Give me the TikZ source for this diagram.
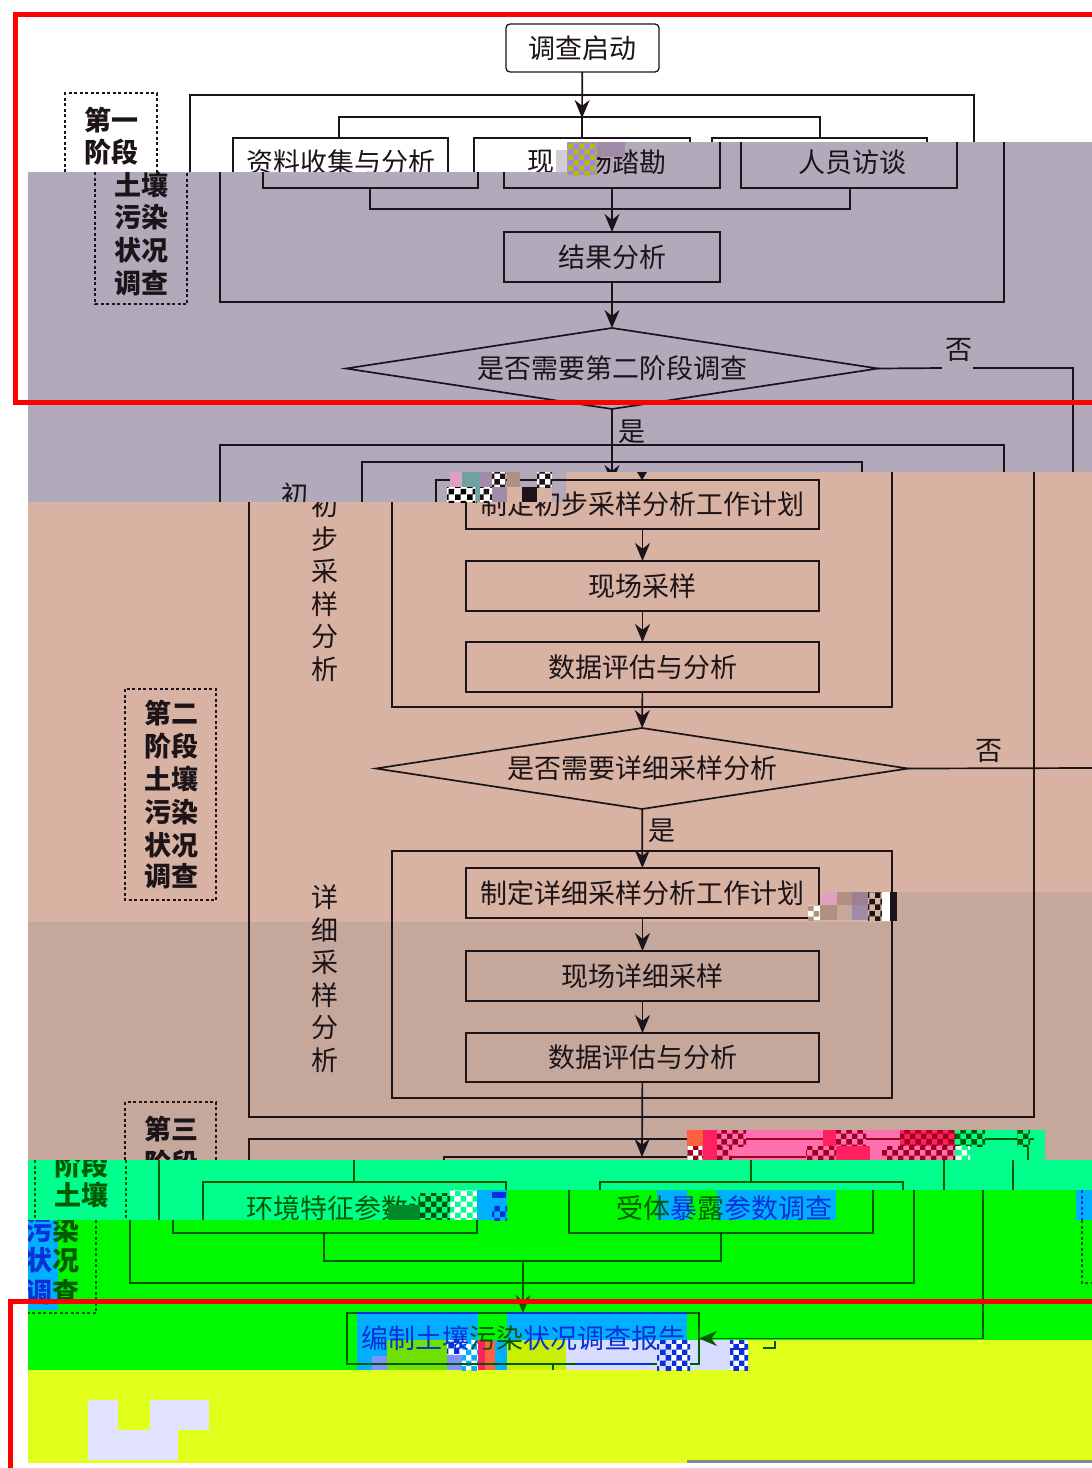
\documentclass[tikz,border=0pt]{standalone}
\usepackage{fontspec}
\setmainfont{Noto Sans CJK SC}
\usetikzlibrary{shapes.geometric,arrows.meta,patterns}
\definecolor{ln}{HTML}{1C1418}
\definecolor{lav}{HTML}{B2AABA}
\definecolor{tanb}{HTML}{D8B2A2}
\definecolor{tand}{HTML}{C5A89B}
\definecolor{pinkb}{HTML}{FF70B0}
\definecolor{hotr}{HTML}{FF2060}
\definecolor{orng}{HTML}{FF6040}
\definecolor{dred}{HTML}{A00020}
\definecolor{spr}{HTML}{00FF8C}
\definecolor{grn}{HTML}{00F800}
\definecolor{dgr}{HTML}{005A00}
\definecolor{sky}{HTML}{00B0FF}
\definecolor{blu}{HTML}{0830D8}
\definecolor{yel}{HTML}{E0FF1A}
\definecolor{yg}{HTML}{C8F000}
\definecolor{lg}{HTML}{70E000}
\definecolor{lil}{HTML}{D8DCFF}
\definecolor{lil2}{HTML}{E2E4FF}
\definecolor{peri}{HTML}{8090FF}
\definecolor{pur}{HTML}{A080FF}
\definecolor{olv}{HTML}{B0C000}
\definecolor{mau}{HTML}{A08CA8}
\definecolor{mau2}{HTML}{9F8090}
\definecolor{brn}{HTML}{B09080}
\definecolor{teal2}{HTML}{70A0A0}
\definecolor{pk2}{HTML}{E0A0C0}
\definecolor{gry}{HTML}{888888}
\definecolor{rd}{HTML}{FF0000}
\newcommand{\nz}[6]{\fill[#5] (#1,#2) rectangle (#3,#4);\fill[pattern=checkerboard,pattern color=#6] (#1,#2) rectangle (#3,#4);}
\newcommand{\blk}[5]{\fill[#5] (#1,#2) rectangle (#3,#4);}
\tikzset{
  x=1pt,y=-1pt,
  every node/.style={font=\fontsize{27}{30}\selectfont,text=ln,inner sep=0pt,outer sep=0pt},
  stage/.style={font=\fontsize{27}{30}\selectfont\bfseries},
  wire/.style={draw=ln,line width=1.7pt,line join=miter},
  arr/.style={wire,-{Stealth[length=18pt,width=15pt]}},
  dash box/.style={draw=ln,line width=1.4pt,dash pattern=on 3pt off 2.5pt},
  boxn/.style={draw=ln,line width=1.7pt,minimum width=353pt,minimum height=50pt},
  dec/.style={diamond,draw=ln,line width=1.7pt,aspect=6.4,minimum width=532pt,minimum height=81pt},
  gwire/.style={draw=dgr,line width=1.7pt},
  garr/.style={gwire,-{Stealth[length=18pt,width=15pt]}},
  gdash/.style={draw=dgr,line width=1.4pt,dash pattern=on 3pt off 2.5pt},
  gtxt/.style={text=dgr},
}
\begin{document}
\begin{tikzpicture}
\useasboundingbox (0,0) rectangle (1092,1468);
\fill[white] (0,0) rectangle (1092,1468);

% ---------- first (white) band
\node[draw=ln,line width=1.3pt,rounded corners=4pt,minimum width=153pt,minimum height=48pt] (start) at (582.5,48) {调查启动};
\coordinate (t1) at (582,118);
\draw[arr] (start) -- (t1);
\draw[wire] (190,172) -- (190,95) -- (974,95) -- (974,143);
\draw[dash box] (65,172) -- (65,93) -- (157,93) -- (157,172);
\node[stage] (s1a) at (111,120) {第一};
\node[stage] (s1b) at (111,152) {阶段};
\draw[wire] (582,117) -- (582,138);
\draw[wire] (339,138) -- (339,117) -- (820,117) -- (820,138);
\draw[wire] (233,172) -- (233,138) -- (448,138) -- (448,172);
\draw[wire] (474,172) -- (474,138) -- (690,138) -- (690,143);
\draw[wire] (712,143) -- (712,138) -- (927,138) -- (927,143);
\node (ziliao) at (340.5,162) {资料收集与分析};
\node (xian) at (541,162) {现};

% ---------- lavender band
\fill[lav] (597,142) rectangle (1092,172);
\fill[lav] (28,172) rectangle (1092,472);
\fill[lav] (28,472) rectangle (566,502);
\node (chang) at (625.5,162) {场踏勘};
\node (renyuan) at (852,162) {人员访谈};
\draw[wire] (220,172) -- (220,302) -- (1004,302) -- (1004,142);
\draw[dash box] (95,172) -- (95,304) -- (187,304) -- (187,172);
\node[stage] (s1c) at (141,185) {土壤};
\node[stage] (s1d) at (141,217) {污染};
\node[stage] (s1e) at (141,250) {状况};
\node[stage] (s1f) at (141,283) {调查};
\draw[wire] (263,172) -- (263,188) -- (478,188) -- (478,172);
\draw[wire] (504,172) -- (504,188) -- (720,188) -- (720,142);
\draw[wire] (741,142) -- (741,188) -- (957,188) -- (957,142);
\draw[wire] (370,188) -- (370,209) -- (850,209) -- (850,188);
\node[boxn,minimum width=216pt] (jieguo) at (612,257) {结果分析};
\coordinate (m1) at (612,188);
\draw[arr] (m1) -- (jieguo);
\node[dec] (d1) at (612,368.5) {是否需要第二阶段调查};
\draw[arr] (jieguo) -- (d1);
\node (no1) at (959,350) {否};
\coordinate (n1a) at (942,368);
\coordinate (n1b) at (973,368);
\coordinate (n1c) at (1073,368);
\coordinate (n1d) at (1073,472);
\draw[wire] (d1.east) -- (n1a);
\draw[wire] (n1b) -- (n1c) -- (n1d);
\node (yes1) at (632,432) {是};
\draw[wire] (220,502) -- (220,445) -- (1004,445) -- (1004,472);
\draw[wire] (362,502) -- (362,462) -- (862,462) -- (862,472);
\draw[wire] (436,502) -- (436,480) -- (566,480);
\node (chu0) at (295,495) {初};
\coordinate (a1) at (612,483);
\draw[arr] (d1) -- (a1);

% ---------- tan band
\fill[tanb] (566,472) rectangle (1092,502);
\fill[tanb] (28,502) rectangle (1092,922);
\fill[tand] (895,892) rectangle (1092,922);
\fill[tand] (28,922) rectangle (1092,1160);
\draw[wire] (249,502) -- (249,1117) -- (1034,1117) -- (1034,472);
\draw[wire] (392,502) -- (392,707) -- (892,707) -- (892,472);
\fill[ln] (637,472) -- (647,472) -- (642,480) -- cycle;
\draw[wire] (466,502) -- (466,529) -- (819,529) -- (819,480) -- (566,480);
\node[minimum width=353pt,minimum height=49pt] (b1) at (642.5,504.5) {制定初步采样分析工作计划};
\begin{scope}
\clip (249,502) rectangle (392,530);
\node (i1) at (325,505) {初};
\end{scope}
\node (i2) at (325,539) {步};
\node (i3) at (325,571) {采};
\node (i4) at (325,604) {样};
\node (i5) at (325,637) {分};
\node (i6) at (325,669) {析};
\node[boxn] (b2) at (642.5,586) {现场采样};
\node[boxn] (b3) at (642.5,667) {数据评估与分析};
\draw[arr] (b1) -- (b2);
\draw[arr] (b2) -- (b3);
\node[dec] (d2) at (642,768.5) {是否需要详细采样分析};
\draw[arr] (b3) -- (d2);
\coordinate (n2) at (1092,768);
\draw[wire] (d2.east) -- (n2);
\node (no2) at (989,751) {否};
\node (yes2) at (662,831) {是};
\draw[wire] (392,851) rectangle (892,1098);
\node[boxn] (b4) at (642.5,893) {制定详细采样分析工作计划};
\node[boxn] (b5) at (642.5,976) {现场详细采样};
\node[boxn,minimum height=49pt] (b6) at (642.5,1057.5) {数据评估与分析};
\draw[arr] (d2) -- (b4);
\draw[arr] (b4) -- (b5);
\draw[arr] (b5) -- (b6);
\node (j1) at (325,897) {详};
\node (j2) at (325,930) {细};
\node (j3) at (325,962) {采};
\node (j4) at (325,995) {样};
\node (j5) at (325,1028) {分};
\node (j6) at (325,1060) {析};
\draw[dash box] (125,689) rectangle (216,900);
\node[stage] (s2a) at (171,713) {第二};
\node[stage] (s2b) at (171,746) {阶段};
\node[stage] (s2c) at (171,779) {土壤};
\node[stage] (s2d) at (171,812) {污染};
\node[stage] (s2e) at (171,845) {状况};
\node[stage] (s2f) at (171,876) {调查};
\draw[dash box] (125,1160) -- (125,1102) -- (216,1102) -- (216,1160);
\node[stage] (s3a) at (171,1129) {第三};
\node[stage] (s3b) at (171,1163) {阶段};
\draw[wire] (249,1160) -- (249,1139) -- (687,1139);
\draw[wire] (444,1160) -- (444,1157) -- (687,1157);
\coordinate (a2) at (642,1157);
\draw[arr] (b6) -- (a2);

% noise on the tan band
\nz{447}{487}{475}{502}{white}{black}
\nz{476}{487}{492}{502}{white}{ln}
\blk{450}{472}{462}{487}{pk2}
\blk{462}{472}{480}{487}{teal2}
\blk{476}{487}{480}{502}{teal2}
\blk{480}{472}{492}{487}{mau}
\nz{492}{472}{506}{487}{white}{ln}
\blk{492}{487}{507}{502}{mau}
\blk{507}{472}{520}{487}{brn}
\blk{507}{487}{522}{502}{tanb}
\fill[ln] (522,487) rectangle (537,502);
\blk{537}{487}{552}{502}{tanb}
\nz{537}{472}{552}{487}{white}{ln}
% row at y 892-922
\blk{822}{892}{837}{905}{pk2}
\blk{837}{892}{852}{905}{brn}
\blk{852}{892}{868}{905}{mau2}
\nz{868}{892}{882}{920}{tanb}{ln}
\nz{808}{905}{820}{920}{white}{brn}
\blk{820}{905}{837}{920}{brn}
\blk{837}{905}{852}{920}{tand}
\blk{852}{905}{868}{920}{mau}
\fill[white] (882,892) rectangle (890,921);
\fill[ln] (890,892) rectangle (897,921);
% noise in the second row
\blk{567}{142}{597}{175}{pur}
\fill[pattern=checkerboard,pattern color=olv] (567,142) rectangle (597,175);
\blk{597}{142}{625}{157}{mau}
\fill[lav!60!white] (556,150) rectangle (567,172);

% ---------- coloured strip y 1130-1160
\fill[pinkb] (687,1130) rectangle (955,1160);
\fill[spr] (955,1130) rectangle (1045,1160);
\draw[draw=dred,line width=1.7pt] (687,1139) -- (955,1139);
\draw[draw=dred,line width=1.7pt] (687,1157) -- (841,1157);
\draw[gwire] (955,1139) -- (1034,1139);
\draw[gwire] (1028,1147) -- (1028,1160);
\blk{687}{1130}{703}{1146}{orng}
\blk{703}{1130}{717}{1160}{hotr}
\nz{717}{1130}{746}{1146}{pinkb}{dred}
\blk{823}{1130}{836}{1146}{hotr}
\nz{836}{1130}{866}{1146}{pinkb}{dred}
\nz{900}{1130}{955}{1146}{hotr}{dred}
\nz{955}{1130}{985}{1146}{spr}{dgr}
\nz{1017}{1130}{1030}{1146}{spr}{dgr}
\nz{687}{1146}{702}{1160}{white}{dred}
\nz{717}{1146}{732}{1160}{pinkb}{dred}
\nz{806}{1146}{836}{1160}{pinkb}{dred}
\blk{836}{1146}{870}{1160}{hotr}
\nz{882}{1146}{955}{1160}{pinkb}{dred}
\nz{955}{1146}{970}{1160}{spr}{white}

% ---------- spring-green band
\fill[spr] (28,1160) rectangle (1092,1220);
\begin{scope}
\clip (28,1160) rectangle (1092,1220);
\draw[gdash] (35,1160) -- (35,1220);
\draw[gdash] (126,1160) -- (126,1220);
\node[gtxt,stage] (s3c) at (81,1165) {阶段};
\node[gtxt,stage] (s3d) at (81,1195) {土壤};
\draw[gwire] (159,1160) -- (159,1220);
\draw[gwire] (354,1160) -- (354,1182);
\draw[gwire] (203,1220) -- (203,1182) -- (506,1182) -- (506,1190);
\draw[gwire] (600,1190) -- (600,1182) -- (903,1182) -- (903,1190);
\draw[gwire] (751,1160) -- (751,1182);
\draw[gwire] (944,1160) -- (944,1190);
\draw[gwire] (1013,1160) -- (1013,1190);
\node[gtxt] (env) at (354,1208) {环境特征参数调查};
\end{scope}
\blk{388}{1205}{420}{1220}{dgr!70!spr}
\nz{420}{1193}{450}{1220}{spr}{dgr}
\nz{450}{1190}{477}{1220}{white}{spr}

% ---------- green band
\fill[grn] (507,1190) rectangle (1092,1370);
\fill[grn] (28,1220) rectangle (507,1370);
\blk{477}{1190}{507}{1220}{sky}
\nz{492}{1205}{507}{1220}{sky}{blu}
\fill[blu] (492,1192) rectangle (506,1198);
\blk{657}{1190}{687}{1220}{sky}
\blk{717}{1190}{836}{1220}{sky}
\blk{1076}{1190}{1092}{1220}{sky}
\blk{28}{1220}{58}{1310}{sky}
\blk{357}{1313}{478}{1340}{sky}
\blk{507}{1313}{687}{1340}{sky}
\fill[yel] (748,1340) rectangle (1092,1370);
\fill[yel] (28,1370) rectangle (1092,1463);
\blk{357}{1340}{387}{1370}{sky}
\blk{372}{1356}{387}{1370}{peri}
\blk{387}{1340}{447}{1370}{lg}
\nz{447}{1340}{462}{1355}{white}{blu}
\blk{447}{1355}{462}{1370}{peri}
\nz{462}{1340}{478}{1370}{white}{sky}
\blk{478}{1340}{487}{1370}{hotr}
\blk{485}{1340}{495}{1370}{orng}
\blk{495}{1340}{507}{1370}{sky}
\blk{507}{1340}{566}{1370}{yg}
\blk{566}{1340}{748}{1370}{lil}
\draw[gwire] (130,1220) -- (130,1283) -- (914,1283) -- (914,1190);
\draw[gwire] (173,1220) -- (173,1233) -- (477,1233) -- (477,1220);
\draw[gwire] (569,1190) -- (569,1233) -- (873,1233) -- (873,1190);
\draw[gwire] (324,1233) -- (324,1261) -- (721,1261) -- (721,1233);
\node[minimum width=304pt,minimum height=44pt] (rec) at (724,1208) {\textcolor{dgr}{受体}\textcolor{blu}{暴}\textcolor{dgr}{露}\textcolor{blu}{参数调查}};
\node[draw=dgr,line width=1.7pt,minimum width=352pt,minimum height=51pt] (report) at (523,1338.5) {\textcolor{blu}{编制土壤}\textcolor{dgr}{污染}\textcolor{blu}{状况调查报告}};
\draw[draw=blu,line width=1.7pt] (357,1313) -- (478,1313);
\draw[draw=blu,line width=1.7pt] (507,1313) -- (687,1313);
\draw[draw=blu,line width=1.7pt] (576,1364) -- (650,1364);
\coordinate (m2) at (523,1261);
\draw[garr] (m2) -- (report);
\coordinate (n3a) at (983,1190);
\coordinate (n3b) at (983,1338.5);
\draw[gwire] (n3a) -- (n3b);
\draw[garr] (n3b) -- (report.east);
\draw[gwire] (553,1364) -- (553,1370);
\draw[gwire] (763,1348) -- (775,1348) -- (775,1341);
\draw[gdash] (96,1220) -- (96,1313) -- (28,1313);
\draw[draw=blu,line width=1.4pt,dash pattern=on 3pt off 2.5pt] (1082,1190) -- (1082,1220);
\draw[gdash] (1082,1220) -- (1082,1283) -- (1092,1283);
\begin{scope}
\clip (28,1220) rectangle (120,1320);
\node[stage] (s3f) at (52,1230) {\textcolor{blu}{污}\textcolor{dgr}{染}};
\node[stage] (s3g) at (52,1260) {\textcolor{blu}{状}\textcolor{dgr}{况}};
\node[stage] (s3h) at (52,1292) {\textcolor{blu}{调}\textcolor{dgr}{查}};
\end{scope}
\nz{657}{1340}{672}{1370}{lil}{blu}
\nz{672}{1340}{690}{1370}{white}{blu}
\nz{730}{1340}{748}{1370}{white}{blu}
\fill[blu] (730,1348) rectangle (746,1350);

% lavender block on the yellow band
\fill[lil2] (88,1400) rectangle (118,1460);
\fill[lil2] (118,1430) rectangle (178,1460);
\fill[lil2] (150,1400) rectangle (209,1430);
\fill[gry] (687,1460) rectangle (1092,1463);

% outside the damaged image
\fill[white] (0,1160) rectangle (28,1468);

% red frames
\draw[draw=rd,line width=5pt] (1092,14.5) -- (15,14.5) -- (15,402) -- (1092,402);
\draw[draw=rd,line width=5pt] (1092,1301) -- (10,1301) -- (10,1468);
\end{tikzpicture}
\end{document}
